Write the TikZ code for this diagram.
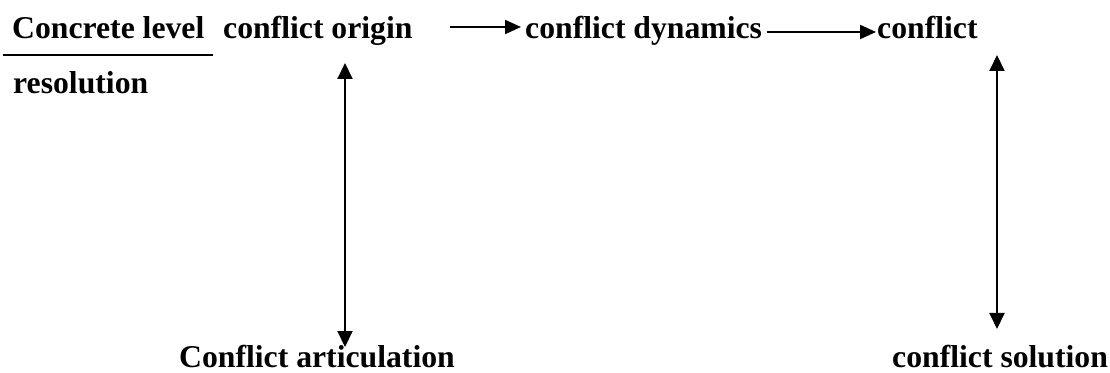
\documentclass[tikz,border=0pt]{standalone}
\usepackage{fontspec}
\setmainfont{Liberation Serif}
\usetikzlibrary{arrows.meta,calc}
\begin{document}
\begin{tikzpicture}[x=1pt,y=1pt,
  lbl/.style={anchor=base west,inner sep=0pt,font=\fontsize{31.7}{38}\selectfont\bfseries},
  conn/.style={line width=2pt,-{Triangle[length=16pt,width=14pt]}},
  dconn/.style={line width=2pt,{Triangle[length=16pt,width=15pt]}-{Triangle[length=16pt,width=15pt]}}]
\useasboundingbox (0,0) rectangle (1110,372);
\node[lbl] (concrete) at (12,333) {Concrete level};
\node[lbl] (resol) at (13,278) {resolution};
\node[lbl] (origin) at (223,333) {conflict origin};
\node[lbl] (dyn) at (525,333) {conflict dynamics};
\node[lbl] (confl) at (877,333) {conflict};
\node[lbl] (artic) at (179,5) {Conflict articulation};
\node[lbl] (sol) at (892,5) {conflict solution};
% underline
\coordinate (ul1) at ($(concrete.base west)+(-9,-16)$);
\coordinate (ul2) at ($(concrete.base west)+(201,-16)$);
\draw[line width=1.6pt] (ul1) -- (ul2);
% horizontal arrows
\draw[conn] ($(origin.base west)+(227,12)$) -- ($(dyn.base west)+(-4,12)$);
\draw[conn] ($(dyn.base west)+(242,7)$) -- ($(confl.base west)+(-1,7)$);
% vertical arrows
\draw[dconn] ($(origin.base west)+(122,-24)$) -- ($(artic.base west)+(166,20)$);
\draw[dconn] ($(confl.base west)+(120,-16)$) -- ($(sol.base west)+(105,38)$);
\end{tikzpicture}
\end{document}
